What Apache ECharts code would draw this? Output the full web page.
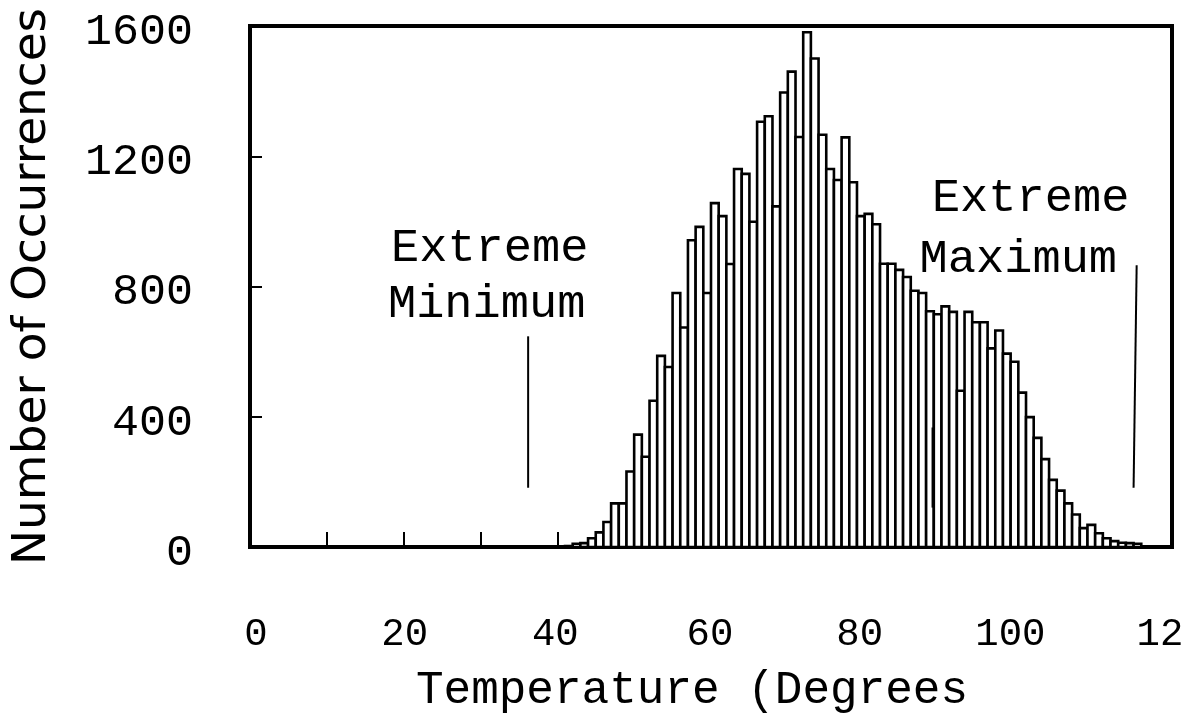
<!DOCTYPE html>
<html>
<head>
<meta charset="utf-8">
<script src="https://cdn.jsdelivr.net/npm/echarts@6/dist/echarts.min.js"></script>
<style>
html,body{margin:0;padding:0;background:#fff;}
#chart{width:1199px;height:719px;}
</style>
</head>
<body>
<div id="chart"></div>
<script>
// Histogram bins: lower edge of each 1-degree bin
const binStart = [41,42,43,44,45,46,47,48,49,50,51,52,53,54,55,56,57,58,59,60,
  61,62,63,64,65,66,67,68,69,70,71,72,73,74,75,76,77,78,79,80,
  81,82,83,84,85,86,87,88,89,90,91,92,93,94,95,96,97,98,99,100,
  101,102,103,104,105,106,107,108,109,110,111,112,113,114,115];
// Number of occurrences in each bin
const counts = [3,10,12,27,45,77,134,134,232,345,277,449,587,553,780,674,942,983,780,1056,
  1016,869,1161,1146,999,1306,1323,1046,1396,1460,1259,1581,1500,1266,1161,1127,1258,1120,1016,1023,
  991,870,870,851,829,787,780,724,715,739,722,480,722,690,690,610,665,594,569,474,
  399,335,270,206,173,134,100,58,68,42,27,18,13,12,10];

const xTickValues = [0,20,40,60,80,100,120];
const xTickLabels = ['0','20','40','60','80','100','12'];
const yTickLabels = ['0','400','800','1200','1600'];

// Annotation lines [x1, y1, x2, y2] in data units
const annoLines = [
  [36.2, 647, 36.2, 182],
  [115.4, 865, 115.0, 182],
  [88.9, 367, 88.9, 121]
];
const annoLineWidths = [2, 2, 3];
// Annotation texts [x, y, text]
const annoTexts = [
  [31.2, 918, 'Extreme'],
  [30.8, 745, 'Minimum'],
  [101.6, 1070, 'Extreme'],
  [100.0, 882, 'Maximum']
];

// small horizontal nudges (px) of the x tick labels, as in the reference
const xLabelShift = [6, 1, -2, -1, -5, -8, -12];
const rich = {};
xLabelShift.forEach((s, i) => {
  rich['l' + i] = {
    fontFamily: 'Liberation Mono', fontSize: 39, color: '#000',
    padding: s >= 0 ? [0, 0, 0, 2 * s] : [0, -2 * s, 0, 0]
  };
});

const chart = echarts.init(document.getElementById('chart'), null, {renderer:'canvas'});
const mono = 'Liberation Mono';

chart.setOption({
  backgroundColor: '#fff',
  animation: false,
  grid: {left: 250, top: 26, width: 922, height: 527, show: true,
         borderColor: '#000', borderWidth: 4, backgroundColor: 'transparent'},
  xAxis: {
    type: 'value', min: 0, max: 120, interval: 10,
    name: 'Temperature (Degrees', nameLocation: 'middle', nameGap: 121,
    nameTextStyle: {fontFamily: mono, fontSize: 46, color: '#000', padding: [0, 38, 0, 0]},
    axisLine: {show: true, lineStyle: {color: '#000', width: 4}},
    axisTick: {show: true, inside: true, length: 15, lineStyle: {color: '#000', width: 2}},
    splitLine: {show: false},
    axisLabel: {
      margin: 68, fontFamily: mono, fontSize: 39, color: '#000',
      rich: rich,
      formatter: function (v) {
        const i = xTickValues.indexOf(v);
        return i >= 0 ? '{l' + i + '|' + xTickLabels[i] + '}' : '';
      }
    }
  },
  yAxis: {
    type: 'value', min: 0, max: 1600, interval: 400,
    name: 'Number of Occurrences', nameLocation: 'middle', nameGap: 194,
    nameTextStyle: {fontFamily: 'DejaVu Sans', fontSize: 47, color: '#000'},
    axisLine: {show: true, lineStyle: {color: '#000', width: 4}},
    axisTick: {show: true, inside: true, length: 12, lineStyle: {color: '#000', width: 2}},
    splitLine: {show: false},
    axisLabel: {
      margin: 57, fontFamily: mono, fontSize: 45, color: '#000',
      rich: {y: {fontFamily: mono, fontSize: 45, color: '#000', padding: [12, 0, 0, 0]}},
      formatter: function (v) { return '{y|' + yTickLabels[v / 400] + '}'; }
    }
  },
  series: [
    {
      type: 'custom',
      data: binStart.map((b, i) => [b, counts[i]]),
      renderItem: function (params, api) {
        const x = api.value(0), v = api.value(1);
        const p0 = api.coord([x, v]);
        const p1 = api.coord([x + 1, 0]);
        return {
          type: 'rect',
          shape: {x: p0[0], y: p0[1], width: p1[0] - p0[0], height: p1[1] - p0[1]},
          style: {fill: '#fff', stroke: '#000', lineWidth: 2.6}
        };
      },
      z: 3
    },
    {
      type: 'custom',
      data: annoLines.map((l, i) => l.concat([annoLineWidths[i]])),
      renderItem: function (params, api) {
        const a = api.coord([api.value(0), api.value(1)]);
        const b = api.coord([api.value(2), api.value(3)]);
        return {
          type: 'line',
          shape: {x1: a[0], y1: a[1], x2: b[0], y2: b[1]},
          style: {stroke: '#000', lineWidth: api.value(4)}
        };
      },
      z: 4
    },
    {
      type: 'custom',
      data: annoTexts,
      dimensions: ['x', 'y', {name: 't', type: 'ordinal'}],
      renderItem: function (params, api) {
        const p = api.coord([api.value(0), api.value(1)]);
        return {
          type: 'text',
          x: p[0], y: p[1],
          style: {text: annoTexts[params.dataIndex][2], fill: '#000',
                  font: '47px "Liberation Mono"', align: 'center', verticalAlign: 'middle'}
        };
      },
      z: 5
    }
  ]
});
</script>
</body>
</html>
